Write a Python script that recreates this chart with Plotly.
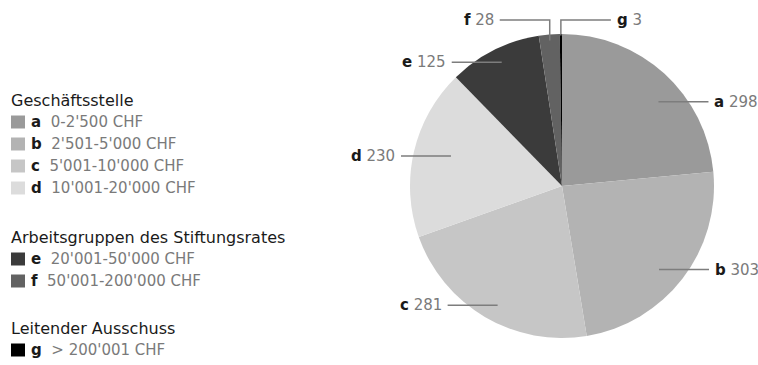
import math
import plotly.graph_objects as go

# ---- data -------------------------------------------------------------
codes = ["a", "b", "c", "d", "e", "f", "g"]
counts = [298, 303, 281, 230, 125, 28, 3]
ranges = [
    "0-2'500 CHF",
    "2'501-5'000 CHF",
    "5'001-10'000 CHF",
    "10'001-20'000 CHF",
    "20'001-50'000 CHF",
    "50'001-200'000 CHF",
    "> 200'001 CHF",
]
groups = ["Geschäftsstelle", "Arbeitsgruppen des Stiftungsrates", "Leitender Ausschuss"]
group_of = [0, 0, 0, 0, 1, 1, 2]

# ---- style ------------------------------------------------------------
colors = ["#9a9a9a", "#b3b3b3", "#c6c6c6", "#dcdcdc", "#3b3b3b", "#626262", "#000000"]
W, H = 758, 365
CX, CY, R = 562, 186, 152          # pie centre / radius in px
FONT = "DejaVu Sans"
DARK, GREY, LINE = "#1a1a1a", "#7a7a7a", "#7d7d7d"

# per-slice callout style: radial fraction for the anchor, callout kind, side
label_radius = [0.75, 0.90, 0.91, 0.87, 0.91, 0.96, 0.99]
label_gap = [20, 20, 20, 12, 22, 0, 0]
label_kind = ["straight"] * 5 + ["elbow", "elbow"]
label_side = [1, 1, -1, -1, -1, -1, 1]
CALLOUT_Y = 20
LINE_LEN = 50

LEG_X = 11
title_y = [100, 237, 328]
ROW_STEP = 22


def px(x, y):
    return x / W, 1 - y / H


fig = go.Figure(
    go.Pie(
        values=counts,
        labels=codes,
        sort=False,
        direction="clockwise",
        rotation=0,
        marker=dict(colors=colors, line=dict(width=0)),
        textinfo="none",
        hoverinfo="label+value",
        showlegend=False,
        domain=dict(
            x=[(CX - R) / W, (CX + R) / W],
            y=[1 - (CY + R) / H, 1 - (CY - R) / H],
        ),
    )
)

shapes, annotations = [], []

# ---- slice callouts ---------------------------------------------------
total = sum(counts)
cum = 0
for i, v in enumerate(counts):
    mid = math.radians((cum + v / 2) / total * 360)
    cum += v
    r = label_radius[i] * R
    ax = CX + r * math.sin(mid)
    ay = CY - r * math.cos(mid)
    side = label_side[i]
    if label_kind[i] == "straight":
        edge = CX + side * math.sqrt(max(R * R - (ay - CY) ** 2, 0))
        x_out = edge + side * label_gap[i]
        x_in = x_out - side * LINE_LEN
        pts = [(x_in, ay), (x_out, ay)]
        ty = ay
    else:
        x_out = ax + side * LINE_LEN
        pts = [(ax, ay), (ax, CALLOUT_Y), (x_out, CALLOUT_Y)]
        ty = CALLOUT_Y
    path = "M " + " L ".join(f"{px(x, y)[0]},{px(x, y)[1]}" for x, y in pts)
    shapes.append(dict(type="path", xref="paper", yref="paper", path=path,
                       line=dict(color=LINE, width=1.5)))
    lx, ly = px(x_out + side * 4, ty)
    annotations.append(dict(
        x=lx, y=ly, xref="paper", yref="paper", showarrow=False,
        xanchor="left" if side > 0 else "right", yanchor="middle",
        text=f"<b>{codes[i]}</b> <span style='color:{GREY}'>{v}</span>",
        font=dict(family=FONT, size=15, color=DARK),
    ))

# ---- legend -----------------------------------------------------------
for g, name in enumerate(groups):
    x, y = px(LEG_X - 2, title_y[g])
    annotations.append(dict(
        x=x, y=y, xref="paper", yref="paper", showarrow=False,
        xanchor="left", yanchor="middle", text=name,
        font=dict(family=FONT, size=16, color=DARK),
    ))
    members = [i for i in range(len(codes)) if group_of[i] == g]
    for k, i in enumerate(members):
        ry = title_y[g] + ROW_STEP * (k + 1)
        x0, y0 = px(LEG_X, ry - 6.5)
        x1, y1 = px(LEG_X + 14, ry + 6.5)
        shapes.append(dict(type="rect", xref="paper", yref="paper",
                           x0=x0, x1=x1, y0=y1, y1=y0,
                           fillcolor=colors[i], line=dict(width=0)))
        lx, ly = px(LEG_X + 18, ry)
        annotations.append(dict(
            x=lx, y=ly, xref="paper", yref="paper", showarrow=False,
            xanchor="left", yanchor="middle",
            text=f"<b>{codes[i]}</b>  <span style='color:{GREY}'>{ranges[i]}</span>",
            font=dict(family=FONT, size=15, color=DARK),
        ))

fig.update_layout(
    width=W, height=H,
    margin=dict(l=0, r=0, t=0, b=0),
    paper_bgcolor="white",
    plot_bgcolor="white",
    shapes=shapes,
    annotations=annotations,
)

fig.write_html("out.html")
